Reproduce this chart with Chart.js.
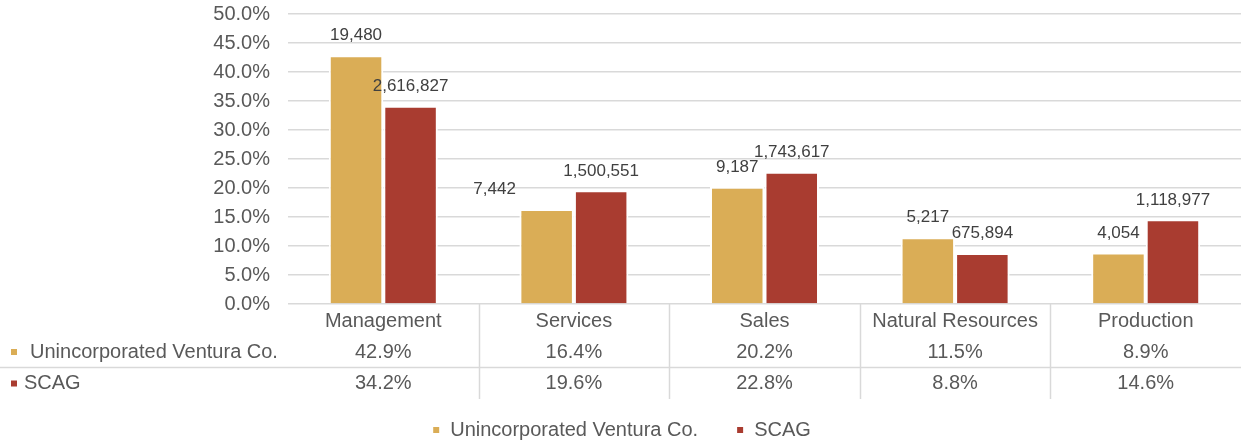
<!DOCTYPE html>
<html><head><meta charset="utf-8">
<script src="https://cdn.jsdelivr.net/npm/chart.js@4"></script>
<style>html,body{margin:0;padding:0;background:#fff;}#wrap{width:1241px;height:442px;position:relative;}</style>
</head><body><div id="wrap"><canvas id="c"></canvas></div>
<script>
const categories = ['Management', 'Services', 'Sales', 'Natural Resources', 'Production'];
const seriesNames = ['Unincorporated Ventura Co.', 'SCAG'];
const venturaPct = [42.9, 16.4, 20.2, 11.5, 8.9];
const scagPct = [34.2, 19.6, 22.8, 8.8, 14.6];
const venturaCounts = [19480, 7442, 9187, 5217, 4054];
const scagCounts = [2616827, 1500551, 1743617, 675894, 1118977];

const COLORS = ['#DAAD56', '#A93C30'];
const TEXT = '#595959';
const GRID = '#d9d9d9';
const FONT = "'Liberation Sans', Arial, sans-serif";
// label horizontal nudges (px), styling only
const labelNudge = [[0, -52, 0, 0, 0], [0, 0, 0, 0, 0]];

const counts = [venturaCounts, scagCounts];
const pcts = [venturaPct, scagPct];

const dataLabels = {
  id: 'dataLabels',
  afterDatasetsDraw(chart) {
    const ctx = chart.ctx;
    ctx.save();
    ctx.font = '17px ' + FONT;
    ctx.fillStyle = '#404040';
    ctx.textAlign = 'center';
    ctx.textBaseline = 'middle';
    chart.data.datasets.forEach((ds, di) => {
      const meta = chart.getDatasetMeta(di);
      meta.data.forEach((el, i) => {
        ctx.fillText(counts[di][i].toLocaleString('en-US'), el.x + labelNudge[di][i], el.y - 19.5);
      });
    });
    ctx.restore();
  }
};

const dataTable = {
  id: 'dataTable',
  afterDraw(chart) {
    const ctx = chart.ctx;
    const xs = chart.scales.x;
    const base = chart.chartArea.bottom;
    const n = categories.length;
    const w = (chart.chartArea.right - chart.chartArea.left) / n;
    ctx.save();
    ctx.strokeStyle = GRID;
    ctx.lineWidth = 1.5;
    for (let i = 1; i < n; i++) {
      const x = Math.round(xs.getPixelForValue(i) - w / 2) + 0.5;
      ctx.beginPath(); ctx.moveTo(x, base); ctx.lineTo(x, base + 95); ctx.stroke();
    }
    const hy = base + 63.5;
    ctx.beginPath(); ctx.moveTo(0, hy); ctx.lineTo(chart.width, hy); ctx.stroke();
    ctx.font = '20px ' + FONT;
    ctx.fillStyle = TEXT;
    ctx.textAlign = 'center';
    ctx.textBaseline = 'middle';
    const rowY = [base + 48, base + 79.5];
    pcts.forEach((arr, r) => {
      arr.forEach((v, i) => {
        ctx.fillText(v.toFixed(1) + '%', xs.getPixelForValue(i), rowY[r]);
      });
    });
    ctx.textAlign = 'left';
    const keyX = [11, 11];
    const textX = [30, 24];
    seriesNames.forEach((name, r) => {
      ctx.fillStyle = COLORS[r];
      ctx.fillRect(keyX[r], rowY[r] - 3, 6, 6);
      ctx.fillStyle = TEXT;
      ctx.fillText(name, textX[r], rowY[r]);
    });
    ctx.restore();
  }
};

new Chart(document.getElementById('c'), {
  type: 'bar',
  data: {
    labels: categories,
    datasets: [
      { label: seriesNames[0], data: venturaPct, backgroundColor: COLORS[0], borderColor: '#ffffff', borderWidth: 2 },
      { label: seriesNames[1], data: scagPct, backgroundColor: COLORS[1], borderColor: '#ffffff', borderWidth: 2 }
    ]
  },
  options: {
    responsive: true,
    maintainAspectRatio: false,
    animation: false,
    devicePixelRatio: 1,
    categoryPercentage: 0.572,
    barPercentage: 1.0,
    layout: { padding: { top: 14, left: 0, right: -2, bottom: 0 } },
    plugins: {
      legend: {
        position: 'bottom',
        maxHeight: 60,
        labels: {
          usePointStyle: true,
          pointStyle: 'rect',
          boxWidth: 8,
          boxHeight: 8,
          padding: 38,
          color: TEXT,
          font: { family: FONT, size: 20 }
        }
      },
      tooltip: { enabled: false }
    },
    scales: {
      x: {
        grid: { display: false, drawTicks: false },
        border: { display: false },
        ticks: { color: TEXT, font: { family: FONT, size: 20 }, padding: 5, maxRotation: 0, autoSkip: false },
        afterFit(scale) { scale.height = 78; }
      },
      y: {
        min: 0,
        max: 50,
        grid: { color: GRID, lineWidth: 1.5, drawTicks: true, tickLength: 18, tickColor: 'rgba(0,0,0,0)' },
        border: { display: false },
        ticks: {
          stepSize: 5,
          color: TEXT,
          padding: 0,
          font: { family: FONT, size: 20 },
          callback: (v) => v.toFixed(1) + '%'
        },
        afterFit(scale) { scale.width = 288; }
      }
    }
  },
  plugins: [dataLabels, dataTable]
});
</script>
</body></html>
